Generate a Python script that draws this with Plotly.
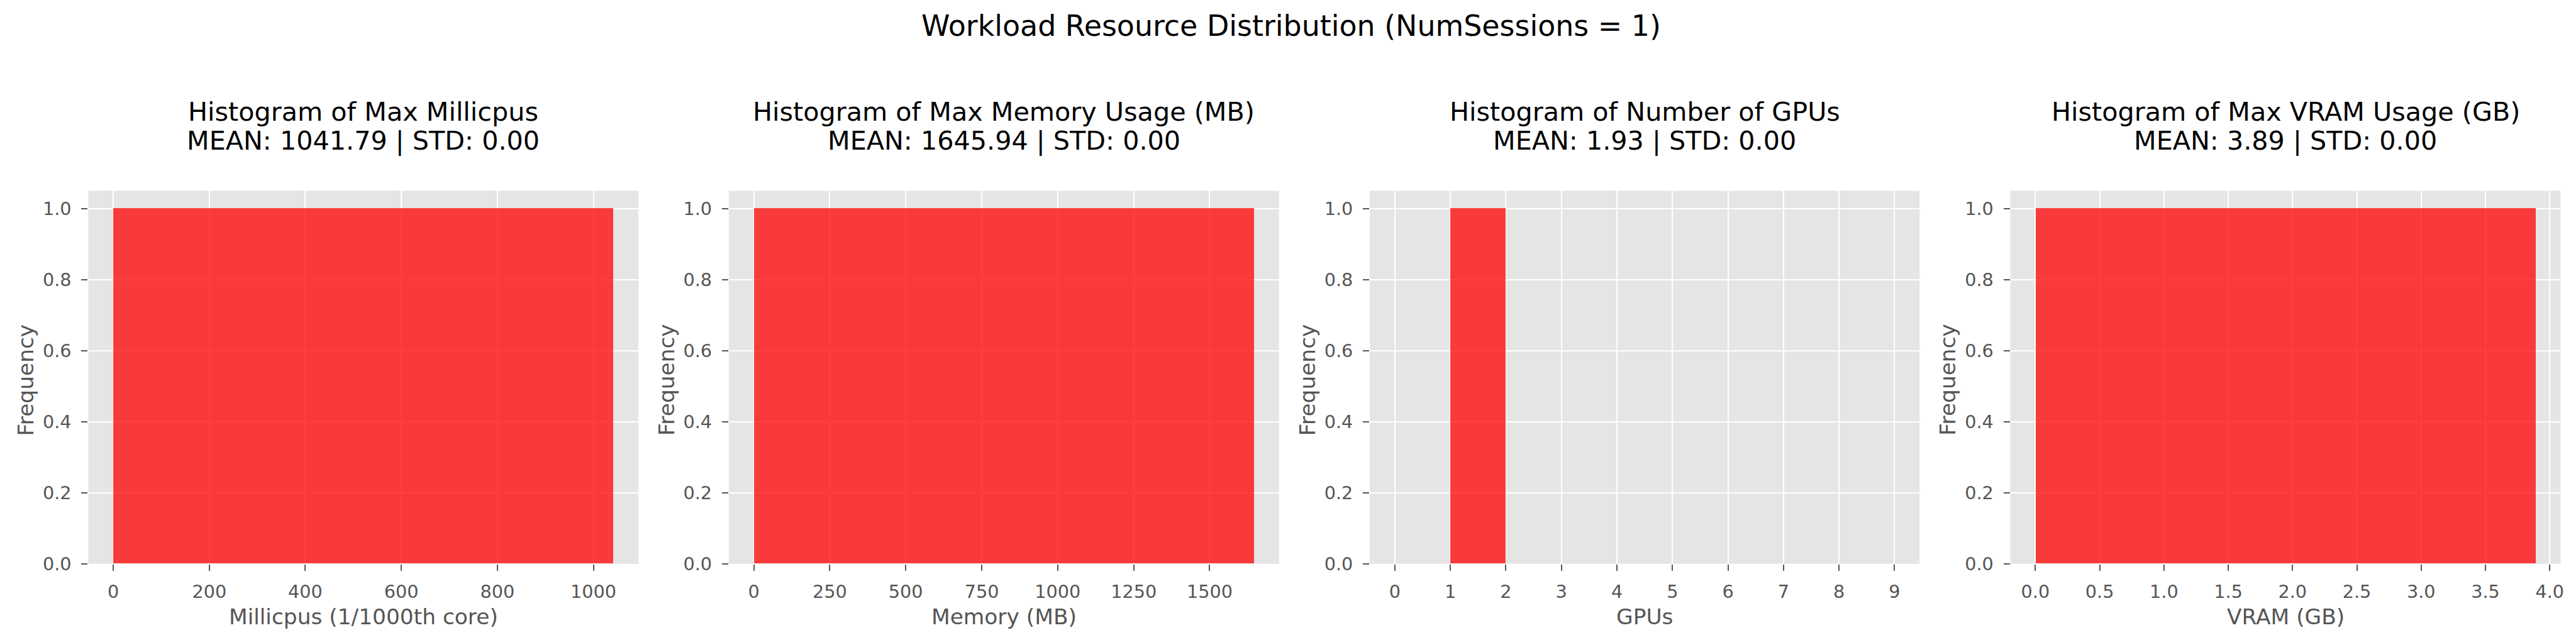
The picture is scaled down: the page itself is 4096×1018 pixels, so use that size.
import plotly.graph_objects as go

# ---------------- data ----------------
suptitle = "Workload Resource Distribution (NumSessions = 1)"
panel_names = ["Max Millicpus", "Max Memory Usage (MB)", "Number of GPUs", "Max VRAM Usage (GB)"]
means = [1041.79, 1645.94, 1.93, 3.89]
stds = [0.00, 0.00, 0.00, 0.00]
xlabels = ["Millicpus (1/1000th core)", "Memory (MB)", "GPUs", "VRAM (GB)"]
ylabel = "Frequency"

millicpu_edges = [0, 1041.79]
millicpu_counts = [1]
memory_edges = [0, 1645.94]
memory_counts = [1]
gpu_edges = [0, 1, 2, 3, 4, 5, 6, 7, 8, 9]
gpu_counts = [0, 1, 0, 0, 0, 0, 0, 0, 0]
vram_edges = [0, 3.89]
vram_counts = [1]

millicpu_ticks = [0, 200, 400, 600, 800, 1000]
memory_ticks = [0, 250, 500, 750, 1000, 1250, 1500]
gpu_ticks = [0, 1, 2, 3, 4, 5, 6, 7, 8, 9]
vram_ticks = [0.0, 0.5, 1.0, 1.5, 2.0, 2.5, 3.0, 3.5, 4.0]
y_ticks = [0.0, 0.2, 0.4, 0.6, 0.8, 1.0]

all_edges = [millicpu_edges, memory_edges, gpu_edges, vram_edges]
all_counts = [millicpu_counts, memory_counts, gpu_counts, vram_counts]
all_xticks = [millicpu_ticks, memory_ticks, gpu_ticks, vram_ticks]
xtick_formats = ["d", "d", "d", ".1f"]

# ---------------- style ----------------
W, H = 4096, 1018
FONT = "DejaVu Sans"
PANEL_BG = "#E5E5E5"
GRID = "#FFFFFF"
TXT = "#555555"
BAR = "rgba(255,0,0,0.75)"

TICK_SIZE = 28.7
LABEL_SIZE = 34.4
TITLE_SIZE = 41.3
SUP_SIZE = 45.9

# panel placement (fractions of the figure)
x_domains = [(0.03235, 0.24627), (0.28137, 0.49529), (0.53059, 0.74431), (0.77961, 0.99353)]
y_domain = (0.11208, 0.70482)


def py(px_from_top):
    return (H - px_from_top) / H


fig = go.Figure()
annotations = []

for i in range(4):
    n = "" if i == 0 else str(i + 1)
    edges = all_edges[i]
    counts = all_counts[i]
    centers = [(edges[k] + edges[k + 1]) / 2 for k in range(len(counts))]
    widths = [edges[k + 1] - edges[k] for k in range(len(counts))]
    fig.add_trace(go.Bar(
        x=centers, y=counts, width=widths,
        marker=dict(color=BAR, line=dict(width=0)),
        xaxis="x" + n, yaxis="y" + n, showlegend=False,
    ))
    lo, hi = edges[0], edges[-1]
    pad = 0.05 * (hi - lo)
    ymax = max(counts) * 1.05
    fig.update_layout(**{
        "xaxis" + n: dict(
            domain=list(x_domains[i]), anchor="y" + n,
            range=[lo - pad, hi + pad],
            tickmode="array", tickvals=all_xticks[i], tickformat=xtick_formats[i],
            showgrid=True, gridcolor=GRID, gridwidth=2.2,
            zeroline=False, showline=False,
            ticks="outside", ticklen=10, tickwidth=2.2, tickcolor=TXT,
            tickfont=dict(family=FONT, size=TICK_SIZE, color=TXT),
            ticklabelstandoff=9,
        ),
        "yaxis" + n: dict(
            domain=list(y_domain), anchor="x" + n,
            range=[0, ymax],
            tickmode="array", tickvals=y_ticks, tickformat=".1f",
            showgrid=True, gridcolor=GRID, gridwidth=2.2,
            zeroline=False, showline=False,
            ticks="outside", ticklen=10, tickwidth=2.2, tickcolor=TXT,
            tickfont=dict(family=FONT, size=TICK_SIZE, color=TXT),
            ticklabelstandoff=10,
        ),
    })
    xd = "x" + n + " domain"
    yd = "y" + n + " domain"
    # panel titles (two lines)
    annotations.append(dict(
        text="Histogram of " + panel_names[i], xref=xd, x=0.5, yref="paper", y=py(173),
        xanchor="center", yanchor="middle", showarrow=False,
        font=dict(family=FONT, size=TITLE_SIZE, color="#000000")))
    annotations.append(dict(
        text="MEAN: %.2f | STD: %.2f" % (means[i], stds[i]), xref=xd, x=0.5, yref="paper", y=py(219.6),
        xanchor="center", yanchor="middle", showarrow=False,
        font=dict(family=FONT, size=TITLE_SIZE, color="#000000")))
    # x label
    annotations.append(dict(
        text=xlabels[i], xref=xd, x=0.5, yref="paper", y=py(990),
        xanchor="center", yanchor="middle", showarrow=False,
        font=dict(family=FONT, size=LABEL_SIZE, color=TXT)))
    # y label
    annotations.append(dict(
        text=ylabel, xref=xd, x=0, xshift=-99, yref=yd, y=0.5, yshift=-4,
        xanchor="center", yanchor="middle", textangle=-90, showarrow=False,
        font=dict(family=FONT, size=LABEL_SIZE, color=TXT)))

annotations.append(dict(
    text=suptitle, xref="paper", x=0.5, yref="paper", y=py(34),
    xanchor="center", yanchor="middle", showarrow=False,
    font=dict(family=FONT, size=SUP_SIZE, color="#000000")))

fig.update_layout(
    width=W, height=H,
    margin=dict(l=0, r=0, t=0, b=0),
    paper_bgcolor="white",
    plot_bgcolor=PANEL_BG,
    bargap=0,
    annotations=annotations,
    font=dict(family=FONT),
)

fig.write_html("out.html")
